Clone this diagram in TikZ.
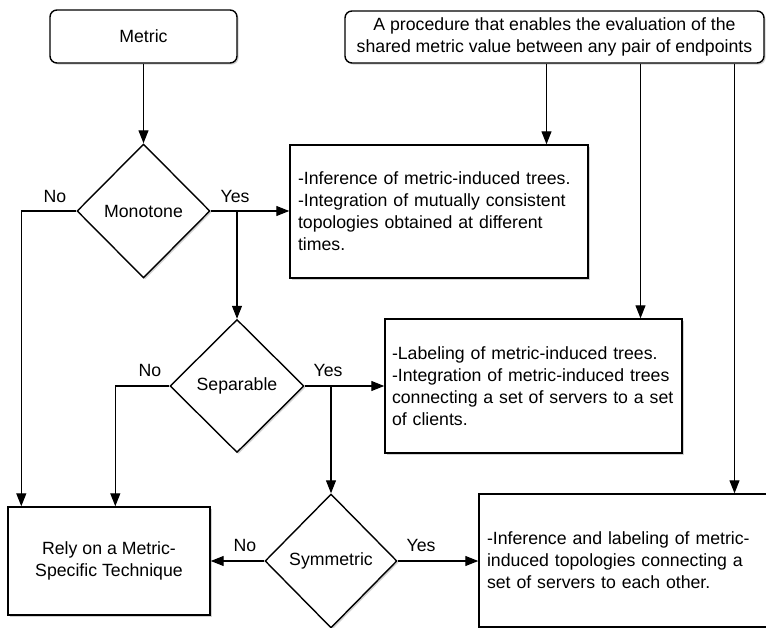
\documentclass[tikz,border=0pt]{standalone}
\usepackage{fontspec}
\setmainfont{Liberation Sans}
\usetikzlibrary{shapes.geometric,arrows.meta,shadows}
\begin{document}
\begin{tikzpicture}[x=1pt,y=-1pt,
  font=\fontsize{17.7}{22}\selectfont,
  shade/.style={drop shadow={shadow xshift=1.6pt,shadow yshift=-1.6pt,opacity=0.35}},
  rbox/.style={draw,line width=1.4pt,rounded corners=7pt,fill=white,shade,inner sep=0pt,align=center},
  sbox/.style={draw,line width=1.4pt,fill=white,shade,inner sep=0pt},
  decision/.style={diamond,draw,line width=1.4pt,fill=white,shade,inner sep=0pt},
  arr/.style={line width=1.2pt,-{Triangle[length=13pt,width=10pt]}},
  lab/.style={inner sep=0pt}]
\useasboundingbox (0,0) rectangle (766,628);
\fill[white] (0,0) rectangle (766,628);

\node[rbox, minimum width=187pt, minimum height=53pt] (metric) at (143.5,36.5) {Metric};
\node[rbox, minimum width=419pt, minimum height=52pt] (proc) at (554.5,37)
  {A procedure that enables the evaluation of the\\shared metric value between any pair of endpoints};

\node[decision, minimum width=133pt, minimum height=134pt] (mono) at (143.5,211) {Monotone};
\node[decision, minimum width=134pt, minimum height=133pt] (sep) at (237,386) {Separable};
\node[decision, minimum width=132pt, minimum height=134pt] (sym) at (331,561) {Symmetric};

\node[sbox, minimum width=298pt, minimum height=133pt, text width=282pt, align=left, inner xsep=8pt] (box1) at (439,211.5)
  {-Inference of metric-induced trees.\\-Integration of mutually consistent\\topologies obtained at different\\times.};
\node[sbox, minimum width=297pt, minimum height=134pt, text width=283pt, align=left, inner xsep=7pt] (box2) at (533.5,386)
  {-Labeling of metric-induced trees.\\-Integration of metric-induced trees\\connecting a set of servers to a set\\of clients.};
\node[sbox, minimum width=321pt, minimum height=133pt, text width=305pt, align=left, inner xsep=8pt] (box3) at (639.5,560.5)
  {-Inference and labeling of metric-\\induced topologies connecting a\\set of servers to each other.};
\node[sbox, minimum width=202pt, minimum height=108pt, align=center] (rely) at (109,561)
  {Rely on a Metric-\\Specific Technique};

\draw[arr] (metric) -- (mono);
\draw[arr] (mono.west) -| ([xshift=14pt]rely.north west);
\draw[arr] (mono.east) -- (mono.east -| box1.west);
\draw[arr] (mono.east -| sep.north) -- (sep.north);
\draw[arr] (sep.west) -| ([xshift=108pt]rely.north west);
\draw[arr] (sep.east) -- (sep.east -| box2.west);
\draw[arr] (sep.east -| sym.north) -- (sym.north);
\draw[arr] (sym.west) -- (sym.west -| rely.east);
\draw[arr] (sym.east) -- (sym.east -| box3.west);

\coordinate (t1) at ([xshift=-8pt]proc.south);
\coordinate (t2) at ([xshift=86pt]proc.south);
\coordinate (t3) at ([xshift=180pt]proc.south);
\draw[arr] (t1) -- (t1 |- box1.north);
\draw[arr] (t2) -- (t2 |- box2.north);
\draw[arr] (t3) -- (t3 |- box3.north);

\node[lab] (no1) at (55,197) {No};
\node[lab] (yes1) at (235,197) {Yes};
\node[lab] (no2) at (150,370) {No};
\node[lab] (yes2) at (328,370) {Yes};
\node[lab] (no3) at (245,545) {No};
\node[lab] (yes3) at (421,545) {Yes};
\end{tikzpicture}
\end{document}
